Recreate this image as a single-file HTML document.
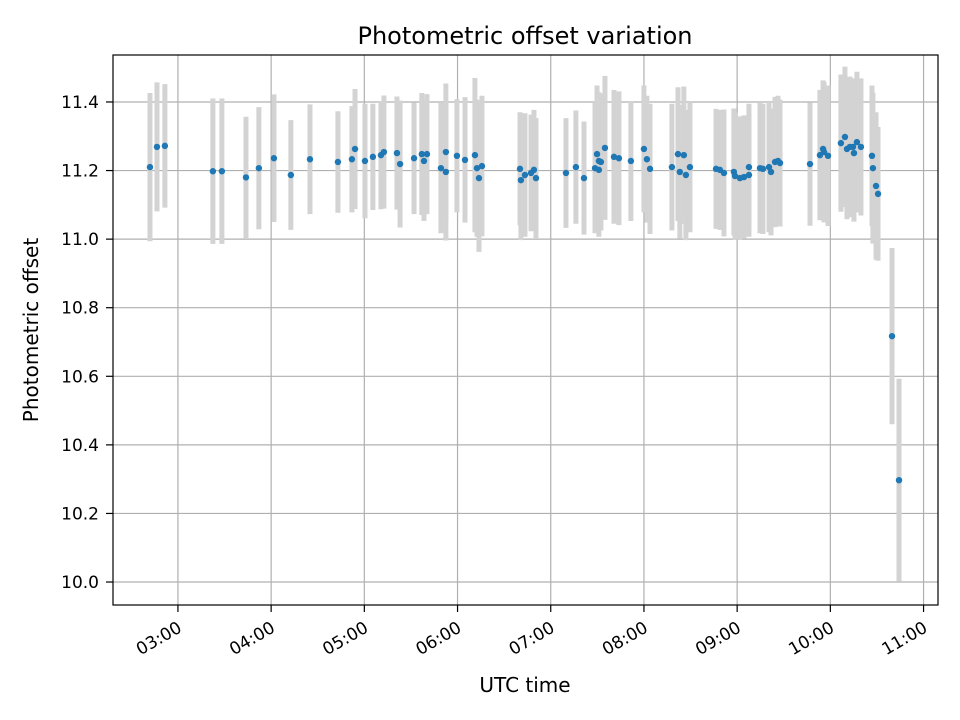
<!DOCTYPE html>
<html><head><meta charset="utf-8">
<style>
html,body{margin:0;padding:0;background:#fff;}
svg{display:block;font-family:"DejaVu Sans","Liberation Sans",sans-serif;}
</style></head>
<body>
<svg id="chart" width="960" height="720" viewBox="0 0 960 720" xmlns="http://www.w3.org/2000/svg">
<rect x="0" y="0" width="960" height="720" fill="#fff"/>
<text x="525" y="44" font-size="24" text-anchor="middle">Photometric offset variation</text>
<text x="525" y="692" font-size="20" text-anchor="middle">UTC time</text>
<text x="38" y="330" font-size="20" text-anchor="middle" transform="rotate(-90 38 330)">Photometric offset</text>
<g id="grid"></g>
<g id="errs"></g>
<g id="pts"></g>
<g id="axes"></g>
</svg>
<script>
// time in minutes since 00:00 UTC
const times = [162,166.5,171.6,202.5,208.3,223.8,232.1,241.8,252.7,265,283,292,294,300.4,305.5,310.7,312.6,321,323,332,337,338.4,340.3,349.3,352.5,352.5,359.6,364.8,371.2,372.5,373.8,375.7,400.2,400.8,403.4,407.3,409.2,410.5,429.8,436.2,441.4,448.5,449.8,451,451,452.3,454.9,460.7,463.9,471.6,480,481.9,483.9,498,501.9,505.7,503.1,507,509.6,526.4,528.9,531.5,537.9,538.6,541.8,544.4,547.6,547.6,554.7,556.6,560.5,561.8,564.4,566.3,567.6,586.9,593.3,595.3,595.9,598.5,606.8,609.4,610.7,612.6,614.6,615.2,617.1,619.7,626.8,627.4,629.4,630.7,639.7,644.2];
const values = [11.210,11.269,11.272,11.198,11.198,11.180,11.207,11.236,11.187,11.233,11.225,11.233,11.263,11.228,11.240,11.245,11.254,11.251,11.219,11.236,11.248,11.228,11.248,11.207,11.196,11.254,11.243,11.231,11.245,11.207,11.178,11.213,11.205,11.172,11.187,11.193,11.202,11.178,11.193,11.210,11.178,11.207,11.248,11.228,11.202,11.225,11.266,11.240,11.236,11.228,11.263,11.233,11.205,11.210,11.248,11.245,11.196,11.187,11.210,11.205,11.202,11.193,11.196,11.184,11.178,11.181,11.210,11.187,11.207,11.205,11.210,11.196,11.225,11.228,11.222,11.219,11.245,11.263,11.254,11.243,11.280,11.298,11.263,11.269,11.269,11.251,11.283,11.269,11.243,11.207,11.155,11.132,10.717,10.297];
const errs = [0.216,0.188,0.180,0.212,0.212,0.177,0.178,0.186,0.160,0.160,0.148,0.155,0.175,0.167,0.155,0.158,0.165,0.165,0.185,0.163,0.178,0.175,0.175,0.190,0.200,0.200,0.165,0.183,0.225,0.200,0.215,0.205,0.165,0.175,0.180,0.170,0.175,0.175,0.160,0.165,0.165,0.190,0.200,0.200,0.195,0.200,0.210,0.195,0.195,0.175,0.185,0.185,0.190,0.185,0.195,0.200,0.195,0.190,0.190,0.175,0.175,0.185,0.185,0.185,0.180,0.180,0.185,0.180,0.190,0.190,0.190,0.185,0.190,0.190,0.185,0.180,0.190,0.200,0.205,0.205,0.200,0.205,0.205,0.205,0.200,0.200,0.205,0.200,0.205,0.220,0.215,0.195,0.257,0.296];
const yTicks = [10.0,10.2,10.4,10.6,10.8,11.0,11.2,11.4];
const xTicks = [180,240,300,360,420,480,540,600,660];
const xTickLabels = ["03:00","04:00","05:00","06:00","07:00","08:00","09:00","10:00","11:00"];

const L=113,R=938,T=55,B=605;
const xMin=138.2,xMax=669.3,yMin=9.933,yMax=11.537;
const X=m=>L+(m-xMin)/(xMax-xMin)*(R-L);
const Y=v=>B-(v-yMin)/(yMax-yMin)*(B-T);
const NS="http://www.w3.org/2000/svg";
function mk(tag,attrs,parent){const e=document.createElementNS(NS,tag);for(const k in attrs)e.setAttribute(k,attrs[k]);parent.appendChild(e);return e;}
const grid=document.getElementById('grid'),eg=document.getElementById('errs'),pg=document.getElementById('pts'),ax=document.getElementById('axes');

xTicks.forEach((t,i)=>{
  const x=X(t);
  const g=mk('line',{x1:x,x2:x,y1:T,y2:B,stroke:'#b0b0b0','stroke-width':1.2},grid);
  
  
  const tk=mk('line',{x1:x,x2:x,y1:B,y2:B+7,stroke:'#000','stroke-width':1.2},ax);
  
  
  const lx=x+5, ly=B+26;
  const lb=mk('text',{x:lx,y:ly,'font-size':17,'text-anchor':'end',transform:`rotate(-30 ${lx} ${ly})`},ax);
  lb.textContent=xTickLabels[i];
  
  
});
yTicks.forEach(v=>{
  const y=Y(v);
  const g=mk('line',{x1:L,x2:R,y1:y,y2:y,stroke:'#b0b0b0','stroke-width':1.2},grid);
  
  
  const tk=mk('line',{x1:L-7,x2:L,y1:y,y2:y,stroke:'#000','stroke-width':1.2},ax);
  
  
  const lb=mk('text',{x:L-14,y:y+6,'font-size':17,'text-anchor':'end'},ax);
  lb.textContent=v.toFixed(1);
  
  
});
times.forEach((t,i)=>{
  const x=X(t);
  const e=mk('line',{x1:x,x2:x,y1:Y(values[i]+errs[i]),y2:Y(values[i]-errs[i]),stroke:'#d3d3d3','stroke-width':5},eg);
  
  
});
times.forEach((t,i)=>{
  const c=mk('circle',{cx:X(t),cy:Y(values[i]),r:3.2,fill:'#1f77b4'},pg);
  
  
});
const fr=mk('rect',{x:L,y:T,width:R-L,height:B-T,fill:'none',stroke:'#000','stroke-width':1.2},ax);


</script>
</body></html>
